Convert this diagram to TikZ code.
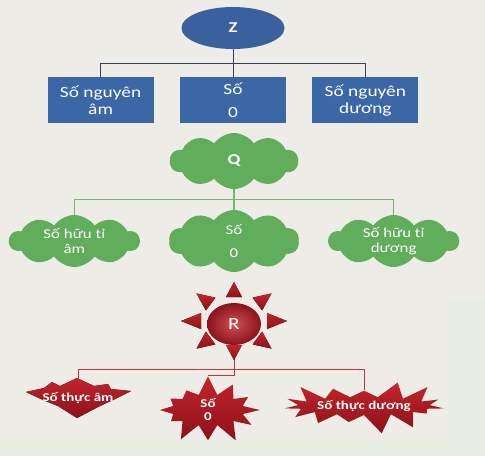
\documentclass[tikz,border=0pt]{standalone}
\usepackage{fontspec}
\setmainfont{Carlito}[FakeStretch=1.25]
\usetikzlibrary{shapes.geometric,shapes.symbols,positioning,calc}
\definecolor{paper}{RGB}{237,236,231}
\definecolor{paperg}{RGB}{231,236,225}
\definecolor{zblue}{RGB}{58,96,158}
\definecolor{boxblue}{RGB}{60,103,166}
\definecolor{lineblue}{RGB}{50,62,100}
\definecolor{qgreen}{RGB}{96,174,92}
\definecolor{linegreen}{RGB}{112,188,100}
\definecolor{rred}{RGB}{196,36,44}
\definecolor{rdark}{RGB}{140,18,26}
\definecolor{linered}{RGB}{200,50,70}

\begin{document}
\begin{tikzpicture}[x=1pt,y=-1pt]
	\tikzstyle{zoval} = [ellipse, fill=zblue, text=white, minimum width=103pt, minimum height=42pt, font=\bfseries\fontsize{15}{18}\selectfont]
	\tikzstyle{zbox} = [rectangle, fill=boxblue, text=white, minimum width=106pt, minimum height=46pt, align=center, font=\fontsize{15.5}{17.5}\selectfont]
	\tikzstyle{qcloud} = [cloud, cloud puffs=10, cloud puff arc=110, aspect=2.3, fill=qgreen, text=white, inner sep=0pt, minimum width=128pt, minimum height=56pt, align=center, font=\fontsize{13.5}{15}\selectfont]
	\tikzstyle{rsun} = [ellipse, inner color=rred!80!white, outer color=rdark, text=white, minimum width=54pt, minimum height=42pt, font=\fontsize{17}{18}\selectfont]
	\tikzstyle{ray} = [top color=rred, bottom color=rdark]
	\tikzstyle{rstar} = [starburst, starburst point height=20pt, top color=rred, bottom color=rdark, text=white, inner sep=0pt, align=center, font=\bfseries\fontsize{12}{13}\selectfont]
	\tikzstyle{rtext} = [text=white, inner sep=0pt, minimum height=40pt, font=\bfseries\fontsize{12}{13}\selectfont]
	\tikzstyle{zline} = [draw=lineblue, line width=0.9pt]
	\tikzstyle{qline} = [draw=linegreen, line width=1.1pt]
	\tikzstyle{rline} = [draw=linered, line width=1pt]

	% page
	\fill[paper] (0,0) rectangle (485,456);
	\fill[paperg] (0,440) rectangle (485,456);
	\fill[paperg] (448,300) rectangle (485,456);

	% Z
	\node [zoval] (Z) at (233,28) {Z};
	\node [zbox, below=28pt of Z] (z0) {Số\\[5pt]0};
	\node [zbox, left=26pt of z0] (zneg) {Số nguyên\\âm};
	\node [zbox, right=26pt of z0] (zpos) {Số nguyên\\dương};
	\coordinate (zfork) at ($(Z.south)!0.5!(z0.north)$);
	\draw [zline] (Z.south) -- (z0.north);
	\draw [zline] (zneg.north) |- (zfork) -| (zpos.north);

	% Q
	\node [qcloud, font=\bfseries\fontsize{15}{18}\selectfont] (Q) at (234,161) {Q};
	\node [qcloud, minimum width=130pt, minimum height=52pt] (q0) at (234,241) {Số\\[8pt]0};
	\node [qcloud, minimum width=130pt, minimum height=52pt, left=29pt of q0] (qneg) {Số hữu tỉ\\âm};
	\node [qcloud, minimum width=130pt, minimum height=52pt, right=29pt of q0] (qpos) {Số hữu tỉ\\dương};
	\coordinate (qfork) at ($(Q.south)!0.5!(q0.north)$);
	\draw [qline] (Q.south) -- (q0.north);
	\draw [qline] (qneg.north) |- (qfork) -| (qpos.north);

	% R
	\node [rsun] (R) at (234,324) {R};
	\coordinate (rmid) at ($(R.center)+(0,-3)$);
	\coordinate (rfork) at ($(R.south)+(0,24)$);
	\coordinate (rbend) at ($(R.south)+(0,30)$);

	\coordinate (sneg) at (78,398);
	\fill [ray, shift={(sneg)}] (-52,-6) -- (-34,-10) -- (-26,-16) -- (-18,-12) -- (-1,-20) -- (16,-12) -- (30,-14) -- (33,-9) -- (53,-7) -- (35,2) -- (22,8) -- (-1,20) -- (-20,8) -- (-35,2) -- cycle;
	\node [rtext] (sneg) at (sneg) {Số thực âm};
	\node [rstar, starburst points=12, random starburst=7, minimum width=112pt, minimum height=54pt] (s0) at (208,410) {Số\\0};
	\node [rstar, starburst points=15, random starburst=3, minimum width=158pt, minimum height=58pt] (spos) at (364,406) {Số thực dương};

	\draw [rline] (R.south) -- (rbend) -| (s0.north);
	\draw [rline] (sneg.north) |- (rfork) -| (spos.north);

	% rays of the sun
	\foreach \a in {0,45,...,315} {
		\path ($(rmid)+(\a:33pt and 24pt)$) coordinate (rb) ($(rmid)+(\a:53pt and 39pt)$) coordinate (rt);
		\fill [ray] ($(rb)!8pt!90:(rt)$) -- (rt) -- ($(rb)!8pt!-90:(rt)$) -- cycle;
	}
\end{tikzpicture}
\end{document}
